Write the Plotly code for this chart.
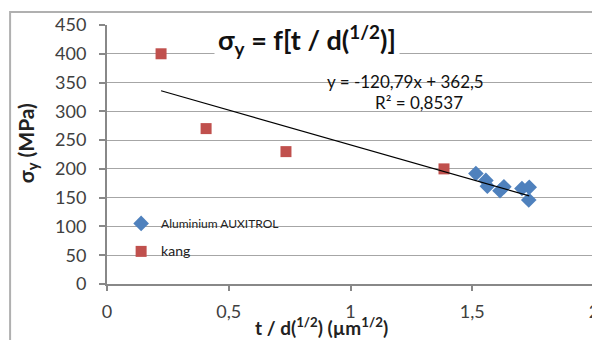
import plotly.graph_objects as go

# Data
alu_x = [1.515, 1.556, 1.562, 1.614, 1.630, 1.704, 1.734, 1.732]
alu_y = [192, 180, 170, 162, 169, 166, 168, 146]
kang_x = [0.222, 0.407, 0.735, 1.384]
kang_y = [400, 270, 230, 200]
trend_slope = -120.79
trend_intercept = 362.5
x_ticks = [0, 0.5, 1, 1.5, 2]
x_tick_labels = ["0", "0,5", "1", "1,5", "2"]
y_ticks = [0, 50, 100, 150, 200, 250, 300, 350, 400, 450]

all_x = alu_x + kang_x
tx = [min(all_x), max(all_x)]
ty = [trend_slope * v + trend_intercept for v in tx]

FONT = "Lato"
fig = go.Figure()
fig.add_trace(go.Scatter(x=alu_x, y=alu_y, mode="markers", name="Aluminium AUXITROL",
                         legendgroup="a",
                         marker=dict(symbol="diamond", size=12, color="#4F81BD")))
fig.add_trace(go.Scatter(x=kang_x, y=kang_y, mode="markers",
                         name="<span style='font-size:14px'>kang</span>",
                         legendgroup="k",
                         marker=dict(symbol="square", size=11, color="#C0504D")))
fig.add_trace(go.Scatter(x=tx, y=ty, mode="lines", showlegend=False,
                         line=dict(color="black", width=1.2)))

BORDER = "#b0b0b0"
fig.update_layout(
    width=600, height=340,
    margin=dict(l=99, r=14, t=17, b=64, autoexpand=False),
    paper_bgcolor="white", plot_bgcolor="white",
    font=dict(family=FONT, color="#404040", size=18),
    showlegend=True,
    legend=dict(x=0.029, y=0.29, xanchor="left", yanchor="top",
                bgcolor="rgba(0,0,0,0)", font=dict(size=12, color="#222"),
                itemwidth=30, traceorder="grouped", tracegroupgap=9),
    xaxis=dict(range=[0, 2], tickvals=x_ticks, ticktext=x_tick_labels, automargin=False,
               showgrid=False, zeroline=False, showline=True, linecolor="#888888",
               linewidth=2, ticks="outside", ticklen=5, tickcolor="#888888", tickwidth=1.5,
               ticklabelstandoff=5),
    yaxis=dict(range=[0, 450], tickvals=y_ticks, automargin=False,
               showgrid=True, gridcolor="#a6a6a6",
               gridwidth=1, zeroline=False, showline=True, linecolor="#888888",
               linewidth=2, ticks="outside", ticklen=6, tickcolor="#888888", tickwidth=1.5,
               ticklabelstandoff=9),
    shapes=[
        dict(type="rect", xref="paper", yref="paper", x0=-0.199, x1=1.2, y0=-0.4, y1=1.05,
             line=dict(color=BORDER, width=2), fillcolor="rgba(0,0,0,0)", layer="above"),
    ],
    annotations=[
        dict(text="<b>σ<sub>y</sub> = f[t / d(<sup>1/2</sup>)]</b>", xref="paper", yref="paper",
             x=0.41, y=0.942, xanchor="center", yanchor="middle", showarrow=False,
             font=dict(size=27, color="#111"), bgcolor="white", borderpad=3),
        dict(text="y = -120,79x + 362,5", xref="paper", yref="paper",
             x=0.612, y=0.78, xanchor="center", yanchor="middle", showarrow=False,
             font=dict(size=17, color="#111")),
        dict(text="R² = 0,8537", xref="paper", yref="paper",
             x=0.641, y=0.699, xanchor="center", yanchor="middle", showarrow=False,
             font=dict(size=17, color="#111")),
        dict(text="<b>t / d(<sup>1/2</sup>) (µm<sup>1/2</sup>)</b>", xref="paper", yref="paper",
             x=0.441, y=-0.166, xanchor="center", yanchor="middle", showarrow=False,
             font=dict(size=19, color="#222")),
        dict(text="<b>σ<sub>y</sub> (MPa)</b>", xref="paper", yref="paper",
             x=-0.164, y=0.544, xanchor="center", yanchor="middle", showarrow=False,
             textangle=-90, font=dict(size=21, color="#222")),
    ],
)

fig.write_html("out.html")
